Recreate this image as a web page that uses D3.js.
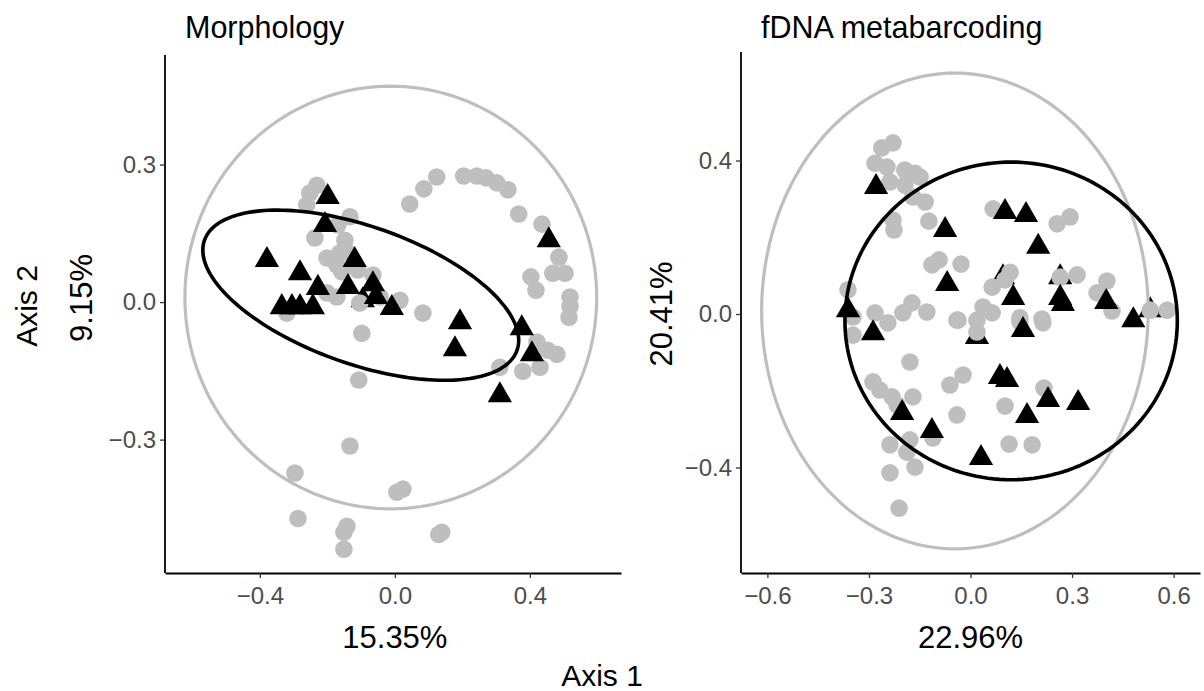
<!DOCTYPE html>
<html>
<head>
<meta charset="utf-8">
<script src="https://cdn.jsdelivr.net/npm/d3@7"></script>
<style>
  body { margin: 0; background: #fff; }
  text { font-family: "Liberation Sans", Arial, sans-serif; }
</style>
</head>
<body>
<script>
// ---- Morphology panel data (Axis 1, Axis 2) ----
var morphXDomain = [-0.681, 0.670],
    morphYDomain = [-0.591, 0.539],
    morphXTicks = [-0.4, 0.0, 0.4],
    morphYTicks = [-0.3, 0.0, 0.3];

var morphGray = [
  [0.044, 0.214], [0.086, 0.247], [0.124, 0.273], [0.204, 0.275], [0.243, 0.275],
  [0.270, 0.271], [0.302, 0.260], [0.335, 0.245], [0.367, 0.192], [0.436, 0.170],
  [0.486, 0.098], [0.468, 0.063], [0.504, 0.063], [0.403, 0.055], [0.418, 0.026],
  [0.519, 0.011], [0.519, -0.009], [0.516, -0.033], [0.083, -0.024], [0.015, 0.004],
  [0.421, -0.087], [0.453, -0.105], [0.480, -0.114], [0.430, -0.142], [0.379, -0.151],
  [0.311, -0.142], [-0.231, 0.255], [-0.252, 0.238], [-0.261, 0.212], [-0.133, 0.186],
  [-0.169, 0.168], [-0.237, 0.140], [-0.201, 0.096], [-0.163, 0.107], [-0.142, 0.109],
  [-0.172, 0.081], [-0.157, 0.066], [-0.110, 0.070], [-0.065, 0.059], [-0.201, 0.020],
  [-0.172, 0.011], [-0.104, -0.002], [-0.320, -0.024], [-0.098, -0.068], [-0.107, -0.170],
  [-0.133, -0.314], [-0.296, -0.373], [0.006, -0.415], [0.024, -0.408], [-0.287, -0.472],
  [-0.142, -0.489], [-0.151, -0.502], [-0.151, -0.539], [0.130, -0.507], [0.139, -0.502],
  [-0.044, 0.011], [-0.148, 0.135]
];
var morphBlackUnder = [[-0.095, 0.004]];
var morphBlack = [
  [-0.199, 0.229], [-0.207, 0.168], [-0.379, 0.092], [-0.281, 0.063], [-0.228, 0.031],
  [-0.335, -0.011], [-0.305, -0.011], [-0.281, -0.011], [-0.243, -0.011], [-0.139, 0.033],
  [-0.119, 0.092], [-0.065, 0.039], [-0.056, 0.011], [-0.009, -0.013], [0.456, 0.135],
  [0.376, -0.057], [0.193, -0.044], [0.178, -0.103], [0.406, -0.114], [0.311, -0.203]
];
// ellipses: center, first axis vector, second axis vector
var morphGrayEllipse = [[-0.012, 0.010], [0.610, 0], [0, 0.461]];
var morphBlackEllipse = [[-0.101, 0.015], [0.463, -0.120], [-0.0676, -0.1416]];

// ---- fDNA metabarcoding panel data ----
var fdnaXDomain = [-0.678, 0.678],
    fdnaYDomain = [-0.675, 0.675],
    fdnaXTicks = [-0.6, -0.3, 0.0, 0.3, 0.6],
    fdnaYTicks = [-0.4, 0.0, 0.4];

var fdnaGray = [
  [-0.229, 0.446], [-0.262, 0.433], [-0.282, 0.393], [-0.247, 0.383], [-0.194, 0.375],
  [-0.164, 0.367], [-0.149, 0.357], [-0.238, 0.344], [-0.194, 0.336], [-0.170, 0.305],
  [-0.134, 0.292], [-0.123, 0.242], [-0.229, 0.245], [-0.226, 0.219], [-0.093, 0.141],
  [-0.114, 0.128], [-0.028, 0.130], [-0.362, 0.063], [-0.347, -0.008], [-0.282, 0.003],
  [-0.244, -0.023], [-0.200, 0.003], [-0.173, 0.029], [-0.129, 0.005], [-0.037, -0.016],
  [-0.347, -0.055], [0.067, 0.274], [0.256, 0.235], [0.294, 0.253], [0.117, 0.109],
  [0.064, 0.070], [0.102, 0.089], [0.265, 0.096], [0.315, 0.102], [0.403, 0.086],
  [0.374, 0.055], [0.418, 0.008], [0.037, 0.018], [0.064, 0.003], [0.019, -0.016],
  [0.019, -0.047], [-0.040, -0.016], [0.146, -0.010], [0.211, -0.013], [0.531, 0.010],
  [0.581, 0.010], [-0.179, -0.125], [-0.288, -0.177], [-0.268, -0.198], [-0.232, -0.216],
  [-0.170, -0.216], [-0.217, -0.237], [-0.061, -0.185], [-0.022, -0.159], [-0.040, -0.263],
  [0.102, -0.240], [-0.179, -0.328], [-0.238, -0.341], [-0.188, -0.360], [-0.164, -0.399],
  [-0.238, -0.414], [-0.211, -0.506], [0.114, -0.339], [0.182, -0.341], [-0.111, -0.323],
  [0.214, -0.023], [0.217, -0.193], [0.146, -0.021]
];
var fdnaBlackUnder = [[0.265, 0.096], [0.531, 0.010], [0.019, -0.060], [0.096, 0.096]];
var fdnaBlack = [
  [-0.279, 0.331], [-0.075, 0.219], [-0.069, 0.078], [-0.362, 0.010], [-0.288, -0.050],
  [0.102, 0.266], [0.164, 0.258], [0.200, 0.175], [0.265, 0.042], [0.273, 0.026],
  [0.126, 0.042], [0.401, 0.031], [0.481, -0.016], [0.155, -0.042], [-0.202, -0.258],
  [-0.114, -0.305], [0.031, -0.375], [0.087, -0.164], [0.108, -0.172], [0.167, -0.266],
  [0.229, -0.224], [0.318, -0.232]
];
var fdnaGrayEllipse = [[-0.046, 0.008], [0.571, 0], [0, 0.620]];
var fdnaBlackEllipse = [[0.120, -0.018], [0.491, 0], [0, 0.414]];

var width = 1204, height = 691;
var grey = "#BEBEBE";

var svg = d3.select("body").append("svg")
    .attr("width", width)
    .attr("height", height);

var panels = [
  { title: "Morphology", pct: "15.35%", ypct: "9.15%",
    left: 165, right: 621, top: 55, bottom: 573,
    xDomain: morphXDomain, yDomain: morphYDomain, xTicks: morphXTicks, yTicks: morphYTicks,
    gray: morphGray, black: morphBlack, blackUnder: morphBlackUnder,
    ellipses: [morphGrayEllipse, morphBlackEllipse], ypctX: 92, ypctY: 298 },
  { title: "fDNA metabarcoding", pct: "22.96%", ypct: "20.41%",
    left: 741, right: 1200, top: 52, bottom: 573,
    xDomain: fdnaXDomain, yDomain: fdnaYDomain, xTicks: fdnaXTicks, yTicks: fdnaYTicks,
    gray: fdnaGray, black: fdnaBlack, blackUnder: fdnaBlackUnder,
    ellipses: [fdnaGrayEllipse, fdnaBlackEllipse], ypctX: 672, ypctY: 314 }
];

var triangle = d3.symbol().type(d3.symbolTriangle).size(255);

panels.forEach(function (p) {
  var x = d3.scaleLinear().domain(p.xDomain).range([p.left, p.right]);
  var y = d3.scaleLinear().domain(p.yDomain).range([573, 55]);
  var g = svg.append("g");

  // triangles partly hidden behind circles
  g.selectAll("path.under").data(p.blackUnder).enter().append("path")
      .attr("class", "under")
      .attr("d", triangle)
      .attr("transform", function (d) { return "translate(" + x(d[0]) + "," + y(d[1]) + ")"; })
      .attr("fill", "#000");

  g.selectAll("circle").data(p.gray).enter().append("circle")
      .attr("cx", function (d) { return x(d[0]); })
      .attr("cy", function (d) { return y(d[1]); })
      .attr("r", 8.8)
      .attr("fill", grey);

  g.selectAll("path.tri").data(p.black).enter().append("path")
      .attr("class", "tri")
      .attr("d", triangle)
      .attr("transform", function (d) { return "translate(" + x(d[0]) + "," + y(d[1]) + ")"; })
      .attr("fill", "#000");

  // ellipses
  var line = d3.line()
      .x(function (d) { return x(d[0]); })
      .y(function (d) { return y(d[1]); })
      .curve(d3.curveLinearClosed);
  p.ellipses.forEach(function (e, i) {
    var pts = d3.range(0, 2 * Math.PI, Math.PI / 90).map(function (t) {
      return [e[0][0] + e[1][0] * Math.cos(t) + e[2][0] * Math.sin(t),
              e[0][1] + e[1][1] * Math.cos(t) + e[2][1] * Math.sin(t)];
    });
    g.append("path")
        .attr("d", line(pts))
        .attr("fill", "none")
        .attr("stroke", i === 0 ? grey : "#000")
        .attr("stroke-width", i === 0 ? 3.2 : 3.6);
  });

  // axes
  var xAxis = g.append("g")
      .attr("transform", "translate(0," + p.bottom + ")")
      .call(d3.axisBottom(x).tickValues(p.xTicks).tickFormat(d3.format(".1f"))
        .tickSizeInner(5).tickSizeOuter(0).tickPadding(9));
  var yAxis = g.append("g")
      .attr("transform", "translate(" + p.left + ",0)")
      .call(d3.axisLeft(y).tickValues(p.yTicks).tickFormat(d3.format(".1f"))
        .tickSizeInner(5).tickSizeOuter(0).tickPadding(4));
  yAxis.select(".domain").attr("d", "M0," + p.top + "V" + p.bottom);
  [xAxis, yAxis].forEach(function (a) {
    a.select(".domain").attr("stroke", "#000").attr("stroke-width", 1.8);
    a.selectAll(".tick line").attr("stroke", "#333").attr("stroke-width", 1.3);
    a.selectAll(".tick text").attr("fill", "#4D4D4D")
        .style("font-size", "24px").style("font-family", "'Liberation Sans', Arial, sans-serif");
  });

  // titles and labels
  g.append("text")
      .attr("x", p.left + 20).attr("y", 38)
      .style("font-size", "30.5px")
      .text(p.title);
  g.append("text")
      .attr("x", x(0)).attr("y", 648)
      .attr("text-anchor", "middle")
      .style("font-size", "31px")
      .text(p.pct);
  g.append("text")
      .attr("transform", "translate(" + p.ypctX + "," + p.ypctY + ") rotate(-90)")
      .attr("text-anchor", "middle")
      .style("font-size", "31px")
      .text(p.ypct);
});

svg.append("text")
    .attr("x", 602).attr("y", 686)
    .attr("text-anchor", "middle")
    .style("font-size", "30px")
    .text("Axis 1");

svg.append("text")
    .attr("transform", "translate(37,306) rotate(-90)")
    .attr("text-anchor", "middle")
    .style("font-size", "30px")
    .text("Axis 2");
</script>
</body>
</html>
